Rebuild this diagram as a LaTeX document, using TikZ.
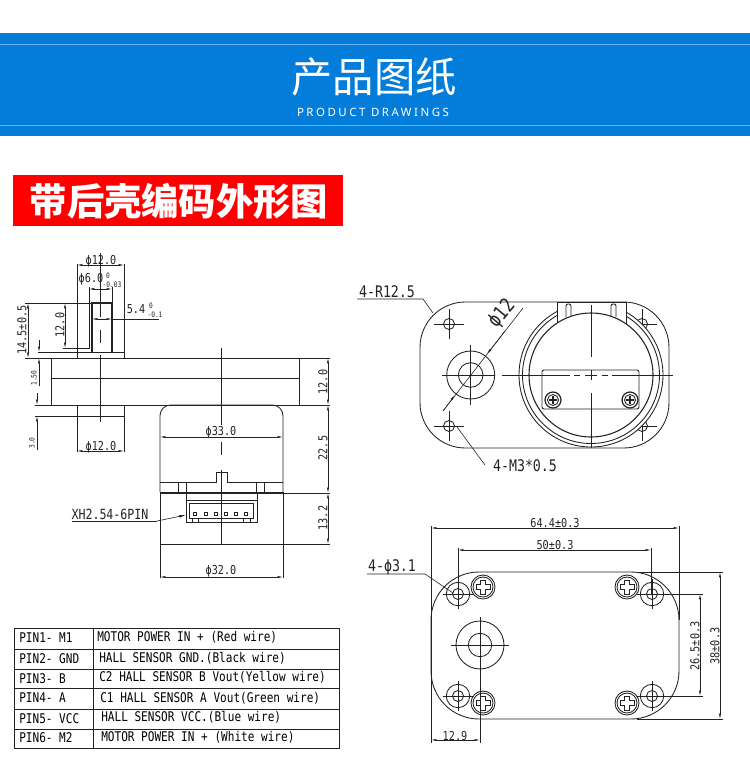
\documentclass[tikz,border=0pt]{standalone}
\usepackage{fontspec}
\usetikzlibrary{arrows.meta, positioning, calc}
\newfontfamily\cjkfont{Noto Sans CJK SC}
\newfontfamily\cadfont[FakeStretch=0.83]{DejaVu Sans Mono}
\newfontfamily\headfont[LetterSpace=22]{Noto Sans}
\definecolor{bandblue}{RGB}{4,125,218}
\definecolor{bandline}{RGB}{110,180,240}
\definecolor{titlered}{RGB}{255,0,0}
\definecolor{inkgray}{RGB}{35,35,35}
\tikzset{
  outline/.style={draw=inkgray, line width=0.65pt},
  thinline/.style={draw=inkgray, line width=0.4pt},
  centerline/.style={draw=inkgray, line width=0.35pt},
  dimline/.style={draw=inkgray, line width=0.4pt, {Latex[length=4pt,width=1.6pt]}-{Latex[length=4pt,width=1.6pt]}},
  dimhalf/.style={draw=inkgray, line width=0.4pt, -{Latex[length=4pt,width=1.6pt]}},
  leaderline/.style={draw=inkgray, line width=0.45pt},
  dimtext/.style={font=\cadfont\fontsize{9.2pt}{10pt}\selectfont, text=inkgray, inner sep=0pt},
  tinytext/.style={font=\cadfont\fontsize{5.6pt}{6pt}\selectfont, text=inkgray, inner sep=0pt},
  calltext/.style={font=\cadfont\fontsize{12pt}{13pt}\selectfont, text=inkgray, inner sep=0pt},
  cellhead/.style={font=\cadfont\fontsize{10pt}{11pt}\selectfont, text=black, inner sep=0pt, anchor=west},
  pics/bigscrew/.style={code={
    \draw[outline, fill=white] (0,0) circle (12);
    \draw[outline] (0,0) circle (10);
    \draw[outline] (-2.5,-7) -- (2.5,-7) -- (2.5,-2.5) -- (7,-2.5) -- (7,2.5) -- (2.5,2.5) -- (2.5,7) -- (-2.5,7) -- (-2.5,2.5) -- (-7,2.5) -- (-7,-2.5) -- (-2.5,-2.5) -- cycle;
  }},
  pics/smallscrew/.style={code={
    \draw[outline, line width=0.9pt, fill=white] (0,0) circle (8);
    \draw[outline] (0,0) circle (5.5);
    \draw[draw=inkgray, line width=1.1pt] (-4,0) -- (4,0) (0,-4) -- (0,4);
  }}
}
\begin{document}
\begin{tikzpicture}[x=0.75pt, y=-0.75pt]
  \useasboundingbox (0,0) rectangle (750,775);

  % top banner
  \fill[bandblue] (0,33) rectangle (750,136);
  \draw[bandline, line width=0.6pt] (0,44) -- (750,44);
  \draw[bandline, line width=0.6pt] (0,125) -- (750,125);
  \node[text=white, inner sep=0pt, font=\cjkfont\fontsize{31pt}{33pt}\selectfont] (title) at (374,77) {产品图纸};
  \node[text=white, inner sep=0pt, font=\headfont\fontsize{8.6pt}{10pt}\selectfont] (subtitle) at (373,112) {PRODUCT DRAWINGS};
  \fill[titlered] (13,175) rectangle (343,226);
  \node[text=white, inner sep=0pt, font=\cjkfont\bfseries\fontsize{28pt}{30pt}\selectfont] (heading) at (179,201) {带后壳编码外形图};

  % side view, shaft and plate
  \draw[outline] (51,358) rectangle (299.5,405);
  \draw[outline] (51,378) -- (299.5,378);
  \draw[outline] (77,358) -- (77,352) -- (124,352) -- (124,358);
  \draw[outline, line width=0.8pt] (92,352) -- (92,303) -- (112,303) -- (112,352);
  \draw[outline] (77,405) -- (77,452);
  \draw[outline] (124,405) -- (124,452);
  \draw[thinline] (38,352) -- (77,352);
  \draw[outline] (35,416) -- (124,416);
  \draw[thinline] (35,405) -- (51,405);
  \draw[thinline] (25,358) -- (51,358);
  \draw[thinline] (299.5,358) -- (330,358);
  \draw[thinline] (299.5,405) -- (330,405);
  \draw[thinline] (77,264) -- (77,352);
  \draw[thinline] (124,264) -- (124,352);
  \draw[outline] (89,287) -- (89,348);
  \draw[thinline] (112,287) -- (112,303);
  \draw[thinline] (25,303) -- (92,303);
  \draw[thinline] (63,348) -- (90,348);
  \draw[centerline] (100.7,253) -- (100.7,317);
  \draw[centerline] (100.7,330) -- (100.7,343);
  \draw[centerline] (100.7,355) -- (100.7,422);

  % side view, motor can
  \draw[outline, rounded corners=8pt] (160,492) -- (160,405) -- (283,405) -- (283,492);
  \draw[outline] (160,492) -- (160,544) -- (283,544) -- (283,492);
  \draw[outline] (160,482) -- (216,482) -- (216,472) -- (227,472) -- (227,482) -- (283,482);
  \draw[draw=inkgray, line width=1.3pt] (160,493) -- (283,493);
  \foreach \xpos in {178,186,256,264} \draw[outline] (\xpos,482) -- (\xpos,493);
  \draw[outline] (186,493) -- (186,522) -- (257,522) -- (257,493);
  \draw[outline] (186,500) -- (257,500);
  \draw[outline] (189,503) rectangle (253,518);
  \draw[outline] (192,522) -- (192,518) (198,522) -- (198,518) (243,522) -- (243,518) (250,522) -- (250,518);
  \foreach \xpos in {195,205.7,216,226,236,246} \draw[outline] (\xpos-1.6,512.4) rectangle (\xpos+1.6,515.6);
  \draw[centerline] (221,348) -- (221,425);
  \draw[centerline] (221,442) -- (221,455);
  \draw[centerline] (221,470) -- (221,545);
  \draw[thinline] (283,493) -- (330,493);
  \draw[thinline] (160,544) -- (330,544);
  \draw[thinline] (160,544) -- (160,578);
  \draw[thinline] (283,544) -- (283,578);

  % side view dimensions
  \draw[dimline] (77,265) -- (124,265);
  \draw[dimline] (89,289) -- (112,289);
  \draw[dimline] (92,319) -- (112,319);
  \draw[leaderline] (112,319) -- (159,319);
  \draw[dimline] (28,303) -- (28,358);
  \draw[dimline] (65,303) -- (65,348);
  \draw[dimhalf] (39,340) -- (39,352);
  \draw[dimhalf] (39,386) -- (39,358);
  \draw[dimhalf] (37,393) -- (37,405);
  \draw[dimhalf] (37,450) -- (37,416);
  \draw[dimline] (77,451) -- (124,451);
  \draw[dimline] (160,437) -- (283,437);
  \draw[dimline] (160,577) -- (283,577);
  \draw[dimline] (328,358) -- (328,405);
  \draw[dimline] (328,405) -- (328,493);
  \draw[dimline] (328,493) -- (328,544);
  \node[dimtext] (shafttop) at (101,261) {ϕ12.0};
  \node[dimtext] (flatdia) at (91,279) {ϕ6.0};
  \node[tinytext] (flatupper) at (108,276) {0};
  \node[tinytext] (flatlower) at (112,285) {-0.03};
  \node[dimtext] (flatwidth) at (136,309) {5.4};
  \node[tinytext] (widthupper) at (151,306) {0};
  \node[tinytext] (widthlower) at (155,315) {-0.1};
  \node[dimtext, rotate=90] (shaftlen) at (22,330) {14.5±0.5};
  \node[dimtext, rotate=90] (flatlen) at (60,325) {12.0};
  \node[tinytext, rotate=90] (bosshigh) at (34,378) {1.50};
  \node[tinytext, rotate=90] (bosslow) at (32,443) {3.0};
  \node[dimtext] (bossdia) at (101,447) {ϕ12.0};
  \node[dimtext] (candia) at (221,432) {ϕ33.0};
  \node[dimtext] (basedia) at (221,571) {ϕ32.0};
  \node[dimtext, rotate=90] (platethick) at (323,382) {12.0};
  \node[dimtext, rotate=90] (canhigh) at (323,448) {22.5};
  \node[dimtext, rotate=90] (basehigh) at (323,518) {13.2};

  % connector callout
  \node[dimtext, font=\cadfont\fontsize{10.5pt}{11pt}\selectfont] (xhlabel) at (110,514) {XH2.54-6PIN};
  \draw[leaderline] (72,521) -- (157,521);
  \draw[leaderline, -{Latex[length=5pt,width=2pt]}] (157,521) -- (186,515);

  % rear view
  \draw[outline, rounded corners=34pt] (420,302) rectangle (669,448);
  \foreach \xpos/\ypos in {449/324,449/426,642/324,642/426} {
    \draw[outline] (\xpos,\ypos) circle (5.5);
    \draw[centerline] (\xpos-15,\ypos) -- (\xpos+15,\ypos);
    \draw[centerline] (\xpos,\ypos-15) -- (\xpos,\ypos+15);
  }
  \draw[outline, fill=white] (591,375) circle (72);
  \draw[outline] (591,375) circle (68.5);
  \draw[outline, fill=white] (557,302) -- (557,324) -- (626,324) -- (626,302) -- cycle;
  \draw[outline, rounded corners=1.5pt] (566,317) -- (566,304) -- (571,304) -- (571,317);
  \draw[outline, rounded corners=1.5pt] (611,317) -- (611,304) -- (616,304) -- (616,317);
  \draw[outline, line width=0.8pt, fill=white] (591,375) circle (62);
  \draw[outline, rounded corners=1.5pt] (542,409) -- (542,370) -- (639,370) -- (639,409) -- cycle;
  \pic at (553,400) {smallscrew};
  \pic at (630,400) {smallscrew};
  \draw[outline] (470.7,375) circle (24);
  \draw[outline] (470.7,375) circle (12.3);
  \draw[centerline] (442,375) -- (494,375);
  \draw[centerline] (502,375) -- (570,375);
  \draw[centerline] (574,375) -- (580,375);
  \draw[centerline] (585,375) -- (597,375);
  \draw[centerline] (602,375) -- (608,375);
  \draw[centerline] (612,375) -- (673,375);
  \draw[centerline] (470.7,345) -- (470.7,405);
  \draw[centerline] (591,305) -- (591,357);
  \draw[centerline] (591,370) -- (591,380);
  \draw[centerline] (591,393) -- (591,448);
  \draw[leaderline] (523,308) -- (443,411);
  \draw[dimhalf] (505,331) -- (487,354);
  \draw[dimhalf] (443,411) -- (455,395);
  \node[dimtext, rotate=50, font=\cadfont\fontsize{15pt}{16pt}\selectfont] (holedia) at (502,314) {ϕ12};
  \node[calltext] (cornerlabel) at (387,292) {4-R12.5};
  \draw[leaderline] (357,299) -- (423,299) -- (433,313);
  \node[calltext] (threadlabel) at (525,466) {4-M3*0.5};
  \draw[leaderline] (457,427) -- (485,465);

  % front view
  \draw[outline, rounded corners=36pt] (431,572) rectangle (679,719);
  \foreach \xpos/\ypos in {458/594,458/696,652/594,652/696} {
    \draw[outline] (\xpos,\ypos) circle (5.5);
    \draw[outline] (\xpos,\ypos) circle (11.7);
    \draw[centerline] (\xpos-15,\ypos) -- (\xpos+15,\ypos);
    \draw[centerline] (\xpos,\ypos-15) -- (\xpos,\ypos+15);
  }
  \foreach \xpos/\ypos in {483/587,627/587,483/703,627/703} \pic at (\xpos,\ypos) {bigscrew};
  \draw[outline] (480,645) circle (24);
  \draw[outline] (480,645) circle (11.7);
  \draw[centerline] (451,645) -- (509,645);
  \draw[centerline] (480,617) -- (480,743);
  \draw[thinline] (431,526) -- (431,743);
  \draw[thinline] (679,526) -- (679,620);
  \draw[thinline] (458,548) -- (458,594);
  \draw[thinline] (651,548) -- (651,594);
  \draw[thinline] (637,572) -- (723,572);
  \draw[thinline] (637,719) -- (723,719);
  \draw[thinline] (663,594) -- (703,594);
  \draw[thinline] (663,696) -- (703,696);
  \draw[dimline] (431,528) -- (679,528);
  \draw[dimline] (458,550) -- (651,550);
  \draw[dimline] (720,572) -- (720,719);
  \draw[dimline] (700,594) -- (700,696);
  \draw[dimline] (431,740) -- (480,740);
  \node[dimtext] (plateoverall) at (555,523) {64.4±0.3};
  \node[dimtext] (holespan) at (555,545) {50±0.3};
  \node[dimtext, rotate=90] (platewide) at (715,646) {38±0.3};
  \node[dimtext, rotate=90] (holewide) at (695,646) {26.5±0.3};
  \node[dimtext] (shaftoffset) at (455,736) {12.9};
  \node[calltext] (holelabel) at (392,567) {4-ϕ3.1};
  \draw[leaderline] (367,574) -- (425,574) -- (453,593);

  % pin table
  \draw[thinline, line width=0.7pt] (14,628) rectangle (339,748);
  \draw[thinline, line width=0.7pt] (93,628) -- (93,748);
  \foreach \ypos in {649.5,669,688,709,729} \draw[thinline, line width=0.5pt] (14,\ypos) -- (339,\ypos);
  \node[cellhead] (pinone) at (19,637.5) {PIN1- M1};
  \node[cellhead] (pintwo) at (19,658.5) {PIN2- GND};
  \node[cellhead] (pinthree) at (19,679) {PIN3- B};
  \node[cellhead] (pinfour) at (19,698) {PIN4- A};
  \node[cellhead] (pinfive) at (19,718.5) {PIN5- VCC};
  \node[cellhead] (pinsix) at (19,738) {PIN6- M2};
  \node[cellhead] (wireone) at (97,637.5) {MOTOR POWER IN + (Red wire)};
  \node[cellhead] (wiretwo) at (99,658) {HALL SENSOR GND.(Black wire)};
  \node[cellhead] (wirethree) at (99,677) {C2 HALL SENSOR B Vout(Yellow wire)};
  \node[cellhead] (wirefour) at (100,698) {C1 HALL SENSOR A Vout(Green wire)};
  \node[cellhead] (wirefive) at (101,717) {HALL SENSOR VCC.(Blue wire)};
  \node[cellhead] (wiresix) at (101,737) {MOTOR POWER IN + (White wire)};
\end{tikzpicture}
\end{document}
